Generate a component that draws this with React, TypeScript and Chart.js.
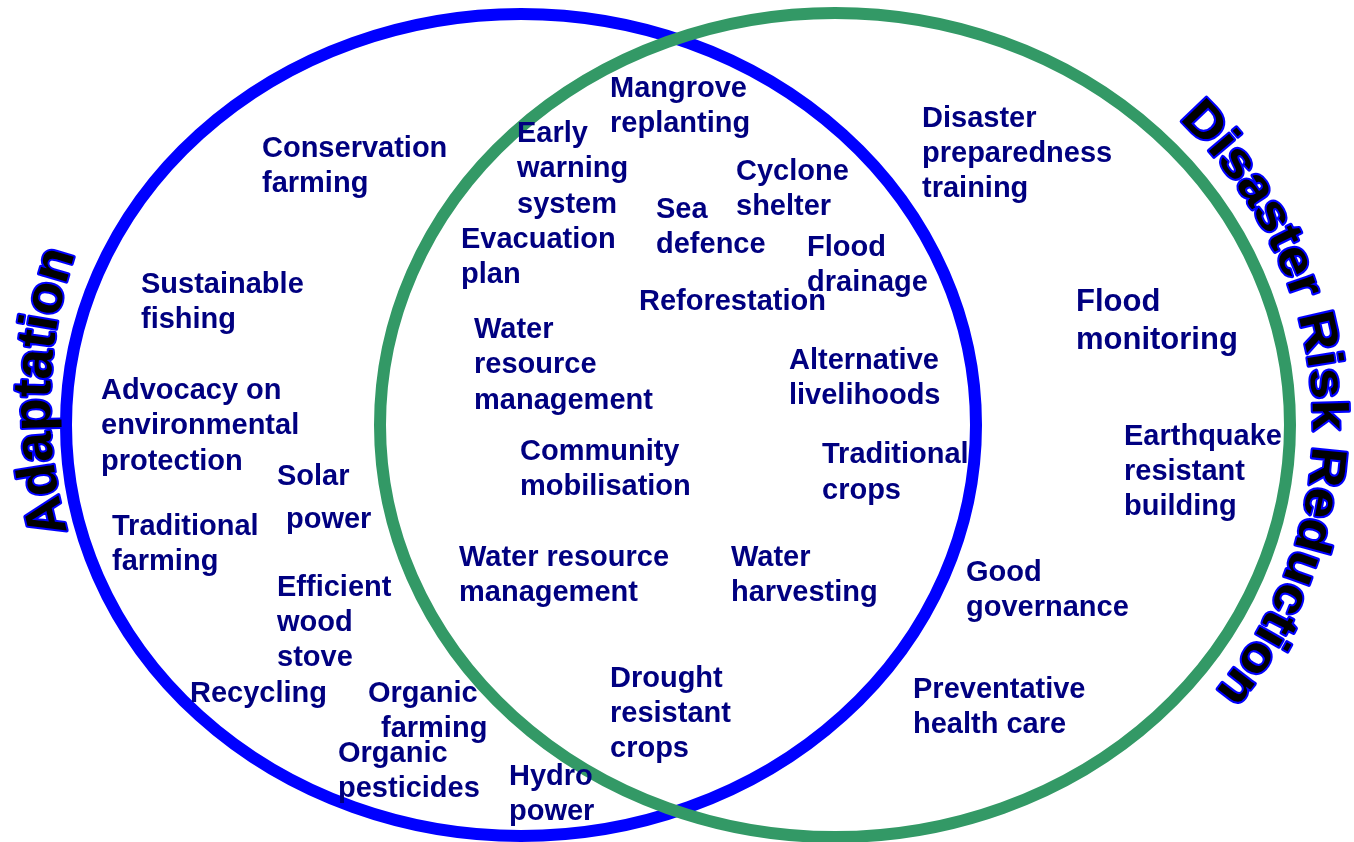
import { useEffect, useRef } from "react";
import { Chart, registerables } from "chart.js";

Chart.register(...registerables);

const W = 1354;
const H = 842;

// Sets (ellipses) in data units
const setNames = ["Adaptation", "Disaster Risk Reduction"];
const setCenterX = [521, 835];
const setCenterY = [425, 425];
const setRadiusX = [455, 455];
const setRadiusY = [411, 412];
const setColors = ["#0000FF", "#339966"];

// Item labels, one entry per text line
const labelText = [
  "Conservation", "farming",
  "Sustainable", "fishing",
  "Advocacy on", "environmental", "protection",
  "Solar", "power",
  "Traditional", "farming",
  "Efficient", "wood", "stove",
  "Recycling",
  "Organic", "farming",
  "Organic", "pesticides",
  "Hydro", "power",
  "Drought", "resistant", "crops",
  "Water resource", "management",
  "Water", "harvesting",
  "Community", "mobilisation",
  "Traditional", "crops",
  "Water", "resource", "management",
  "Alternative", "livelihoods",
  "Evacuation", "plan",
  "Reforestation",
  "Flood", "drainage",
  "Sea", "defence",
  "Cyclone", "shelter",
  "Early", "warning", "system",
  "Mangrove", "replanting",
  "Disaster", "preparedness", "training",
  "Flood", "monitoring",
  "Earthquake", "resistant", "building",
  "Good", "governance",
  "Preventative", "health care",
];
const labelX = [
  262, 262,
  141, 141,
  101, 101, 101,
  277, 286,
  112, 112,
  277, 277, 277,
  190,
  368, 381,
  338, 338,
  509, 509,
  610, 610, 610,
  459, 459,
  731, 731,
  520, 520,
  822, 822,
  474, 474, 474,
  789, 789,
  461, 461,
  639,
  807, 807,
  656, 656,
  736, 736,
  517, 517, 517,
  610, 610,
  922, 922, 922,
  1076, 1076,
  1124, 1124, 1124,
  966, 966,
  913, 913,
];
const labelY = [
  149, 184,
  285, 320,
  391, 426, 462,
  477, 520,
  527, 562,
  588, 623, 658,
  694,
  694, 729,
  754, 789,
  777, 812,
  679, 714, 749,
  558, 593,
  558, 593,
  452, 487,
  455, 491,
  330, 365, 401,
  361, 396,
  240, 275,
  302,
  248, 283,
  210, 245,
  172, 207,
  134, 169, 205,
  89, 124,
  119, 154, 189,
  302, 340,
  437, 472, 507,
  573, 608,
  690, 725,
];

const FONT = '"Liberation Sans", Arial, sans-serif';

function textOnEllipse(
  ctx: CanvasRenderingContext2D,
  text: string,
  cx: number,
  cy: number,
  rx: number,
  ry: number,
  t0: number,
  hScale: number,
  mode: "stroke" | "fill"
) {
  let t = t0;
  const dt = 0.0004;
  let px = cx + rx * Math.cos(t);
  let py = cy + ry * Math.sin(t);
  let s = 0;
  let cursor = 0;
  for (const ch of text) {
    const w = ctx.measureText(ch).width * hScale;
    const target = cursor + w / 2;
    while (s < target) {
      t += dt;
      const nx = cx + rx * Math.cos(t);
      const ny = cy + ry * Math.sin(t);
      s += Math.hypot(nx - px, ny - py);
      px = nx;
      py = ny;
    }
    const ang = Math.atan2(ry * Math.cos(t), -rx * Math.sin(t));
    ctx.save();
    ctx.translate(px, py);
    ctx.rotate(ang);
    ctx.scale(hScale, 1);
    if (mode === "stroke") ctx.strokeText(ch, 0, 0);
    else ctx.fillText(ch, 0, 0);
    ctx.restore();
    cursor += w;
  }
}

const vennPlugin = {
  id: "venn",
  beforeDatasetsDraw(chart: any) {
    const { ctx, scales } = chart;
    const xs = scales.x;
    const ys = scales.y;
    ctx.save();
    for (let i = 0; i < setNames.length; i++) {
      const cx = xs.getPixelForValue(setCenterX[i]);
      const cy = ys.getPixelForValue(setCenterY[i]);
      const rx = Math.abs(xs.getPixelForValue(setCenterX[i] + setRadiusX[i]) - cx);
      const ry = Math.abs(ys.getPixelForValue(setCenterY[i] + setRadiusY[i]) - cy);
      ctx.beginPath();
      ctx.ellipse(cx, cy, rx, ry, 0, 0, Math.PI * 2);
      ctx.lineWidth = 12;
      ctx.strokeStyle = setColors[i];
      ctx.stroke();
    }
    ctx.restore();
  },
  afterDatasetsDraw(chart: any) {
    const { ctx, scales } = chart;
    const xs = scales.x;
    const ys = scales.y;
    const meta = chart.getDatasetMeta(0);
    ctx.save();
    ctx.fillStyle = "#000080";
    ctx.textAlign = "left";
    ctx.textBaseline = "middle";
    for (let i = 0; i < labelText.length; i++) {
      const pt = meta.data[i];
      const isLarge =
        (labelText[i] === "Flood" && labelText[i + 1] === "monitoring") ||
        labelText[i] === "monitoring";
      ctx.font = `bold ${isLarge ? 31 : 29}px ${FONT}`;
      ctx.fillText(labelText[i], pt.x, pt.y);
    }

    // Set titles along curved paths
    ctx.textAlign = "center";
    ctx.textBaseline = "alphabetic";
    ctx.lineJoin = "round";
    ctx.strokeStyle = "#0000FF";
    ctx.lineWidth = 4;
    ctx.fillStyle = "#000000";
    const titles = [
      { text: setNames[0], cx: 521, cy: 405, rx: 471, ry: 471, t0: (164.4 * Math.PI) / 180, size: 54, h: 1.0 },
      { text: setNames[1], cx: 835, cy: 425, rx: 478, ry: 440, t0: (-44 * Math.PI) / 180, size: 50, h: 1.1 },
    ];
    for (const tt of titles) {
      const cx = xs.getPixelForValue(tt.cx);
      const cy = ys.getPixelForValue(tt.cy);
      const rx = Math.abs(xs.getPixelForValue(tt.cx + tt.rx) - cx);
      const ry = Math.abs(ys.getPixelForValue(tt.cy + tt.ry) - cy);
      ctx.font = `bold ${tt.size}px ${FONT}`;
      textOnEllipse(ctx, tt.text, cx, cy, rx, ry, tt.t0, tt.h, "stroke");
      textOnEllipse(ctx, tt.text, cx, cy, rx, ry, tt.t0, tt.h, "fill");
    }
    ctx.restore();
  },
};

export default function App() {
  const ref = useRef<HTMLCanvasElement | null>(null);
  useEffect(() => {
    if (!ref.current) return;
    const chart = new Chart(ref.current, {
      type: "scatter",
      data: {
        datasets: [
          {
            label: "items",
            data: labelX.map((x, i) => ({ x, y: labelY[i] })),
            pointRadius: 0,
            pointHoverRadius: 0,
            showLine: false,
          },
        ],
      },
      options: {
        responsive: false,
        maintainAspectRatio: false,
        animation: false,
        events: [],
        layout: { padding: 0 },
        scales: {
          x: { type: "linear", min: 0, max: W, display: false },
          y: { type: "linear", min: 0, max: H, reverse: true, display: false },
        },
        plugins: {
          legend: { display: false },
          tooltip: { enabled: false },
          title: { display: false },
        },
      },
      plugins: [vennPlugin],
    });
    return () => chart.destroy();
  }, []);
  return (
    <div style={{ position: "fixed", left: 0, top: 0, width: W, height: H, background: "#ffffff" }}>
      <canvas ref={ref} width={W} height={H} style={{ display: "block", width: W, height: H }} />
    </div>
  );
}
